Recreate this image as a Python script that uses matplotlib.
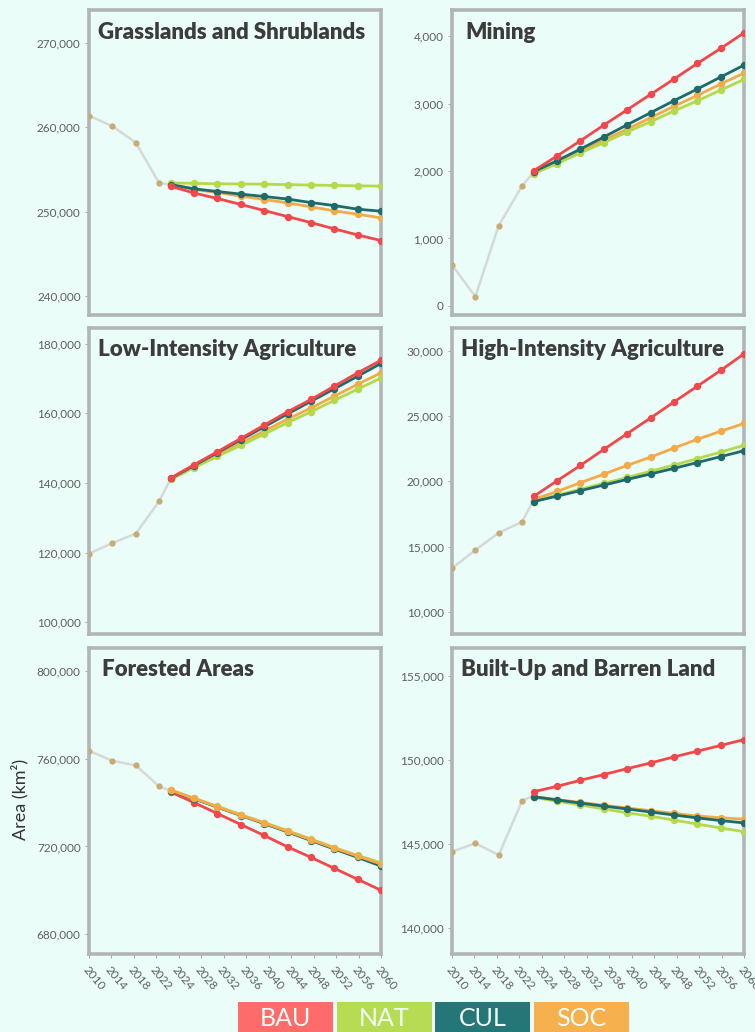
import numpy as np
import matplotlib
matplotlib.use("Agg")
import matplotlib.pyplot as plt
from matplotlib.patches import Rectangle

# ---------------- data ----------------
hist_years = [2010, 2014, 2018, 2022]
proj_years = [2024, 2028, 2032, 2036, 2040, 2044, 2048, 2052, 2056, 2060]
tick_labels = ["2010", "2014", "2018", "2022", "2024", "2028", "2032", "2036",
               "2040", "2044", "2048", "2052", "2056", "2060"]
scenarios = ["BAU", "NAT", "CUL", "SOC"]

panel_titles = ["Grasslands and Shrublands", "Mining",
                "Low-Intensity Agriculture", "High-Intensity Agriculture",
                "Forested Areas", "Built-Up and Barren Land"]

# Grasslands and Shrublands
grass_hist = [261400, 260150, 258200, 253400]
grass_BAU = [253000, 252200, 251550, 250840, 250120, 249400, 248690, 247940, 247220, 246550]
grass_NAT = [253400, 253350, 253300, 253280, 253250, 253200, 253150, 253100, 253060, 253020]
grass_CUL = [253200, 252700, 252380, 252070, 251790, 251480, 251070, 250710, 250280, 250040]
grass_SOC = [253200, 252620, 252260, 251830, 251430, 251030, 250560, 250080, 249680, 249250]

# Mining
mine_hist = [607, 138, 1190, 1782]
mine_BAU = [2004, 2224, 2449, 2681, 2908, 3136, 3363, 3595, 3817, 4049]
mine_NAT = [1960, 2110, 2270, 2420, 2580, 2730, 2890, 3040, 3200, 3358]
mine_CUL = [1990, 2153, 2326, 2504, 2686, 2864, 3042, 3215, 3393, 3570]
mine_SOC = [1970, 2130, 2290, 2460, 2620, 2790, 2960, 3120, 3290, 3452]

# Low-Intensity Agriculture
low_hist = [119700, 122750, 125440, 134700]
low_BAU = [141400, 145240, 148960, 152770, 156590, 160400, 163950, 167760, 171580, 175200]
low_NAT = [141000, 144400, 147600, 150800, 154000, 157300, 160400, 163700, 166900, 170100]
low_CUL = [141300, 145000, 148700, 152400, 156100, 159800, 163400, 167000, 170600, 174300]
low_SOC = [141100, 144600, 148000, 151400, 154900, 158300, 161500, 164900, 168300, 171600]

# High-Intensity Agriculture
high_hist = [13330, 14720, 16050, 16900]
high_BAU = [18850, 20050, 21230, 22460, 23670, 24870, 26100, 27310, 28520, 29800]
high_NAT = [18450, 18950, 19400, 19850, 20300, 20780, 21250, 21750, 22250, 22770]
high_CUL = [18450, 18870, 19290, 19720, 20150, 20570, 21000, 21450, 21900, 22360]
high_SOC = [18600, 19230, 19900, 20560, 21230, 21870, 22560, 23230, 23850, 24450]

# Forested Areas
forest_hist = [763600, 759100, 757000, 747400]
forest_BAU = [744800, 740000, 735000, 730000, 725000, 719800, 715000, 710000, 705000, 700000]
forest_NAT = [745800, 742000, 738300, 734500, 730900, 727200, 723400, 719500, 715900, 712500]
forest_CUL = [745500, 741700, 737900, 734100, 730400, 726600, 722700, 718800, 715000, 711000]
forest_SOC = [745700, 741900, 738100, 734300, 730700, 726900, 723100, 719200, 715600, 712000]

# Built-Up and Barren Land
built_hist = [144520, 145020, 144320, 147540]
built_BAU = [148090, 148410, 148770, 149110, 149460, 149800, 150160, 150500, 150840, 151190]
built_NAT = [147750, 147520, 147300, 147060, 146830, 146630, 146400, 146160, 145930, 145710]
built_CUL = [147790, 147600, 147410, 147230, 147060, 146880, 146700, 146530, 146370, 146230]
built_SOC = [147790, 147620, 147450, 147280, 147120, 146960, 146800, 146640, 146540, 146450]

panel_hist = [grass_hist, mine_hist, low_hist, high_hist, forest_hist, built_hist]
panel_proj = [
    [grass_BAU, grass_NAT, grass_CUL, grass_SOC],
    [mine_BAU, mine_NAT, mine_CUL, mine_SOC],
    [low_BAU, low_NAT, low_CUL, low_SOC],
    [high_BAU, high_NAT, high_CUL, high_SOC],
    [forest_BAU, forest_NAT, forest_CUL, forest_SOC],
    [built_BAU, built_NAT, built_CUL, built_SOC],
]
panel_yticks = [
    [240000, 250000, 260000, 270000],
    [0, 1000, 2000, 3000, 4000],
    [100000, 120000, 140000, 160000, 180000],
    [10000, 15000, 20000, 25000, 30000],
    [680000, 720000, 760000, 800000],
    [140000, 145000, 150000, 155000],
]
panel_ylim = [
    (237700, 273900),
    (-135, 4380),
    (96650, 184600),
    (8280, 31820),
    (670900, 810800),
    (138430, 156670),
]

# ---------------- style ----------------
BG = "#ebfdf8"
line_colors = {"BAU": "#f2474b", "NAT": "#b5d94a", "CUL": "#1f6b6b", "SOC": "#f4aa48"}
legend_colors = {"BAU": "#fd6b6a", "NAT": "#b7db52", "CUL": "#257676", "SOC": "#f6b04e"}
FRAME = "#b3b5b5"
TITLE_C = "#3c3c3c"
TICK_C = "#5f5f5f"

plt.rcParams["font.family"] = ["Lato", "DejaVu Sans"]

fig = plt.figure(figsize=(7.55, 10.32), dpi=100, facecolor=BG)

W, H = 755.0, 1032.0
col_left = [89, 452]
col_w = 292
row_top = [10.5, 327.5, 647.5]
row_bot = [315, 634, 954]
title_x = [0.03, 0.045, 0.03, 0.03, 0.045, 0.03]

for i in range(6):
    r, c = divmod(i, 2)
    l = col_left[c] / W
    b = 1 - row_bot[r] / H
    h = (row_bot[r] - row_top[r]) / H
    ax = fig.add_axes([l, b, col_w / W, h])
    ax.set_facecolor(BG)

    start_val = np.mean([v[0] for v in panel_proj[i]])
    ax.plot(hist_years + [proj_years[0]], panel_hist[i] + [start_val],
            color="#d5dad8", lw=1.8, zorder=2)
    ax.plot(hist_years, panel_hist[i], ls="none", marker="o", ms=3.5,
            color="#c8ab74", zorder=3)
    order = ["SOC", "NAT", "CUL", "BAU"] if i != 4 else ["BAU", "CUL", "NAT", "SOC"]
    for s in order:
        vals = panel_proj[i][scenarios.index(s)]
        ax.plot(proj_years, vals, color=line_colors[s], lw=2, marker="o", ms=4.3,
                zorder=4)

    ax.set_xlim(2010, 2060)
    ax.set_ylim(*panel_ylim[i])
    ax.set_yticks(panel_yticks[i])
    ax.set_yticklabels([f"{v:,}" for v in panel_yticks[i]])
    ax.tick_params(axis="y", length=3, width=0.6, color="#9a9a9a", labelsize=8.5,
                   labelcolor=TICK_C, pad=3)
    ax.set_xticks(np.linspace(2010, 2060, len(tick_labels)))
    if r == 2:
        ax.set_xticklabels(tick_labels, rotation=-50, ha="left", va="top",
                           rotation_mode="anchor", fontsize=8.5, color=TICK_C)
        ax.tick_params(axis="x", length=3, width=0.6, color="#9a9a9a", pad=4)
    else:
        ax.set_xticklabels([])
        ax.tick_params(axis="x", length=0)
    for sp in ax.spines.values():
        sp.set_color(FRAME)
        sp.set_linewidth(2.6)
    ax.text(title_x[i], 0.962, panel_titles[i], transform=ax.transAxes, ha="left", va="top",
            fontsize=16, fontweight="heavy", color=TITLE_C)

fig.text(20 / W, 1 - 799 / H, "Area (km²)", rotation=90, ha="center", va="center",
         fontsize=13, color="#333333")

# legend boxes
box_x = [238, 337, 435, 534]
box_w = 95
for s, x in zip(scenarios, box_x):
    fig.patches.append(Rectangle((x / W, 0), box_w / W, 30 / H, transform=fig.transFigure,
                                 facecolor=legend_colors[s], edgecolor="none"))
    fig.text((x + box_w / 2) / W, 1 - 1019 / H, s, ha="center", va="center",
             fontsize=18, color="#f2fff8")

fig.savefig("out.png", dpi=100, facecolor=BG)
